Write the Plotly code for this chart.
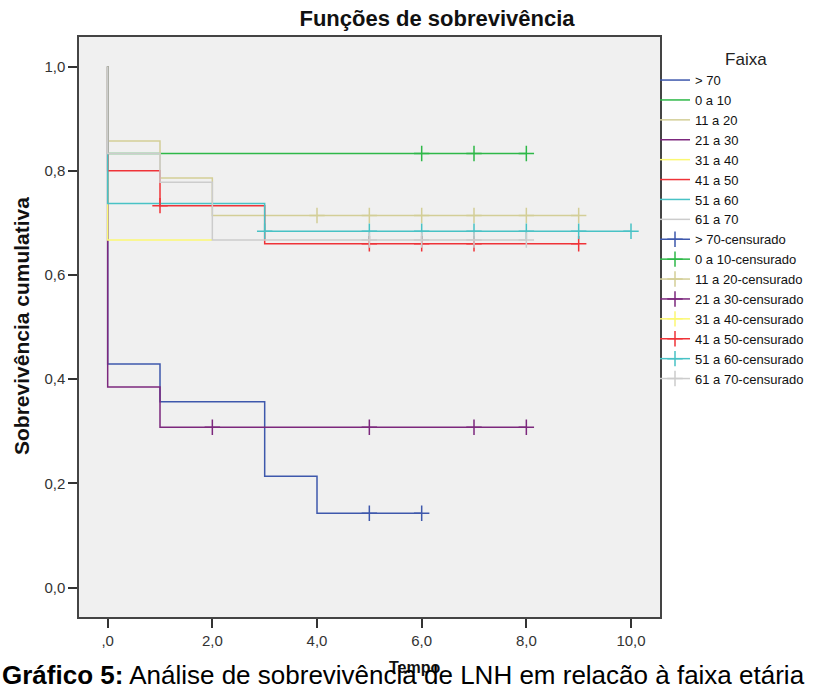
import plotly.graph_objects as go

# ---------------- data ----------------
groups = ["> 70", "0 a 10", "11 a 20", "21 a 30", "31 a 40", "41 a 50", "51 a 60", "61 a 70"]
colors = ["#3E58AC", "#2EB848", "#D3CE97", "#7C287D", "#FBF873", "#EF3338", "#48C2C5", "#CCCCCC"]

# Kaplan-Meier step curves: time / cumulative survival
gt70_time = [0, 0, 1, 3, 4, 6]
gt70_surv = [1.0, 0.429, 0.357, 0.214, 0.143, 0.143]
g0_10_time = [0, 0, 8]
g0_10_surv = [1.0, 0.833, 0.833]
g11_20_time = [0, 0, 1, 2, 9]
g11_20_surv = [1.0, 0.857, 0.786, 0.714, 0.714]
g21_30_time = [0, 0, 1, 8]
g21_30_surv = [1.0, 0.385, 0.308, 0.308]
g31_40_time = [0, 0, 2]
g31_40_surv = [1.0, 0.667, 0.667]
g41_50_time = [0, 0, 1, 3, 9]
g41_50_surv = [1.0, 0.800, 0.733, 0.660, 0.660]
g51_60_time = [0, 0, 3, 10]
g51_60_surv = [1.0, 0.737, 0.684, 0.684]
g61_70_time = [0, 0, 1, 2, 8]
g61_70_surv = [1.0, 0.833, 0.778, 0.667, 0.667]

# censored observations: time / survival at that time
gt70_cens_time = [5, 6]
gt70_cens_surv = [0.143, 0.143]
g0_10_cens_time = [6, 7, 8]
g0_10_cens_surv = [0.833, 0.833, 0.833]
g11_20_cens_time = [4, 5, 6, 7, 8, 9]
g11_20_cens_surv = [0.714, 0.714, 0.714, 0.714, 0.714, 0.714]
g21_30_cens_time = [2, 5, 7, 8]
g21_30_cens_surv = [0.308, 0.308, 0.308, 0.308]
g31_40_cens_time = []
g31_40_cens_surv = []
g41_50_cens_time = [1, 5, 6, 7, 9]
g41_50_cens_surv = [0.733, 0.660, 0.660, 0.660, 0.660]
g51_60_cens_time = [3, 5, 6, 7, 8, 9, 10]
g51_60_cens_surv = [0.684, 0.684, 0.684, 0.684, 0.684, 0.684, 0.684]
g61_70_cens_time = [5, 6, 7, 8]
g61_70_cens_surv = [0.667, 0.667, 0.667, 0.667]

x_tickvals = [0, 2, 4, 6, 8, 10]
x_ticktext = [",0", "2,0", "4,0", "6,0", "8,0", "10,0"]
y_tickvals = [0.0, 0.2, 0.4, 0.6, 0.8, 1.0]
y_ticktext = ["0,0", "0,2", "0,4", "0,6", "0,8", "1,0"]

curves = [
    (gt70_time, gt70_surv), (g0_10_time, g0_10_surv), (g11_20_time, g11_20_surv),
    (g21_30_time, g21_30_surv), (g31_40_time, g31_40_surv), (g41_50_time, g41_50_surv),
    (g51_60_time, g51_60_surv), (g61_70_time, g61_70_surv),
]
censored = [
    (gt70_cens_time, gt70_cens_surv), (g0_10_cens_time, g0_10_cens_surv),
    (g11_20_cens_time, g11_20_cens_surv), (g21_30_cens_time, g21_30_cens_surv),
    (g31_40_cens_time, g31_40_cens_surv), (g41_50_cens_time, g41_50_cens_surv),
    (g51_60_cens_time, g51_60_cens_surv), (g61_70_cens_time, g61_70_cens_surv),
]

FONT = "Liberation Sans, Arial, sans-serif"

fig = go.Figure()

for name, col, (t, s) in zip(groups, colors, curves):
    fig.add_trace(go.Scatter(
        x=t, y=s, name=name, mode="lines",
        line=dict(color=col, width=1.5, shape="hv"),
        hoverinfo="skip",
    ))

for name, col, (t, s) in zip(groups, colors, censored):
    xs, ys = [], []
    for ti, si in zip(t, s):
        xs += [ti, None]
        ys += [si, None]
    if not xs:
        xs, ys = [None], [None]
    fig.add_trace(go.Scatter(
        x=xs, y=ys, name=name + "-censurado", mode="lines+markers",
        line=dict(color=col, width=1.5),
        marker=dict(symbol="cross-thin", size=11, color=col,
                    line=dict(color=col, width=1.5)),
        connectgaps=False, hoverinfo="skip",
    ))

W, H = 828, 684
ML, MR, MT, MB = 79, 168, 37, 67
PW, PH = W - ML - MR, H - MT - MB


def px_to_paper_x(px):
    return (px - ML) / PW


def px_to_paper_y(py):
    return (H - MB - py) / PH


fig.update_layout(
    width=W, height=H,
    margin=dict(l=ML, r=MR, t=MT, b=MB, pad=0),
    paper_bgcolor="white",
    plot_bgcolor="#F0F0F0",
    font=dict(family=FONT, color="#222222"),
    title=dict(
        text="<b>Funções de sobrevivência</b>",
        font=dict(size=22, color="#111111", family=FONT),
        xref="container", x=437 / W, xanchor="center",
        yref="container", y=1 - 18 / H, yanchor="middle",
    ),
    xaxis=dict(
        range=[-0.548, 10.554],
        tickmode="array", tickvals=x_tickvals, ticktext=x_ticktext,
        ticks="outside", ticklen=9, tickwidth=1.5, tickcolor="#333333",
        tickfont=dict(size=15, color="#333333", family=FONT),
        showline=True, mirror=True, linecolor="#444444", linewidth=1.5,
        showgrid=False, zeroline=False,
    ),
    yaxis=dict(
        range=[-0.0562, 1.0566],
        tickmode="array", tickvals=y_tickvals, ticktext=y_ticktext,
        ticks="outside", ticklen=9, tickwidth=1.5, tickcolor="#333333",
        tickfont=dict(size=15, color="#333333", family=FONT),
        showline=True, mirror=True, linecolor="#444444", linewidth=1.5,
        showgrid=False, zeroline=False,
    ),
    legend=dict(
        title=dict(text="&nbsp;&nbsp;&nbsp;&nbsp;&nbsp;&nbsp;Faixa", side="top center",
                   font=dict(size=17, color="#222222", family=FONT)),
        font=dict(size=13, color="#111111", family=FONT),
        x=px_to_paper_x(655), xanchor="left",
        y=px_to_paper_y(43), yanchor="top",
        bgcolor="rgba(0,0,0,0)", borderwidth=0,
        itemwidth=30, tracegroupgap=0, traceorder="normal",
    ),
    showlegend=True,
    annotations=[
        dict(text="<b>Sobrevivência cumulativa</b>", textangle=-90,
             xref="paper", yref="paper",
             x=px_to_paper_x(21), y=px_to_paper_y(326),
             xanchor="center", yanchor="middle", showarrow=False,
             font=dict(size=21, color="#111111", family=FONT)),
        dict(text="<b>Tempo</b>",
             xref="paper", yref="paper",
             x=px_to_paper_x(414), y=px_to_paper_y(667),
             xanchor="center", yanchor="middle", showarrow=False,
             font=dict(size=16, color="#111111", family=FONT)),
        dict(text="<b>Gráfico 5:</b> Análise de sobrevivência de LNH em relação à faixa etária",
             xref="paper", yref="paper",
             x=px_to_paper_x(0), y=px_to_paper_y(675),
             xanchor="left", yanchor="middle", showarrow=False,
             font=dict(size=26, color="#000000", family=FONT)),
    ],
)

fig.write_html("out.html")
